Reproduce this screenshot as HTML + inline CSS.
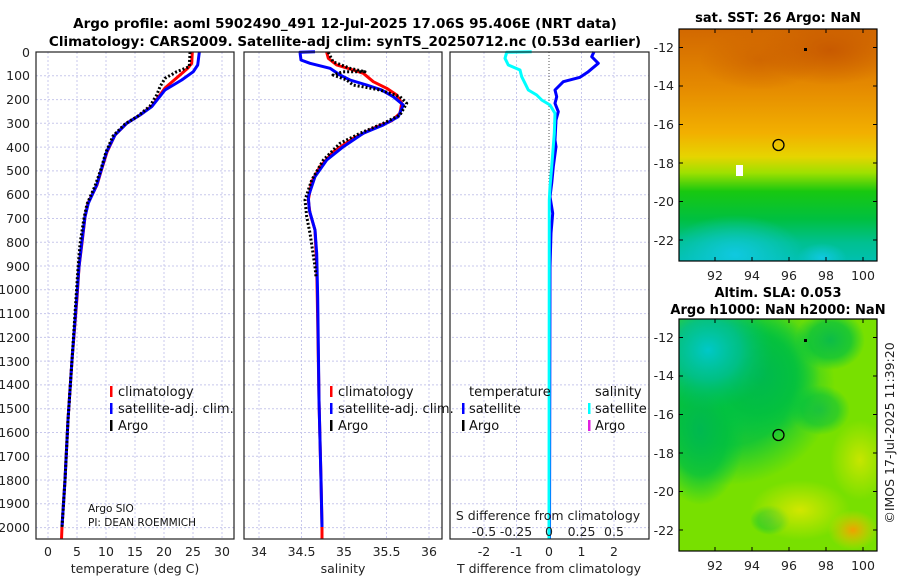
<!DOCTYPE html>
<html><head><meta charset="utf-8"><style>
body{margin:0;background:#fff}
svg text{font-family:"DejaVu Sans","Liberation Sans",sans-serif}
</style></head><body>
<svg width="900" height="580" xmlns="http://www.w3.org/2000/svg">
<defs>
<linearGradient id="sst" x1="0" y1="0" x2="0" y2="1">
<stop offset="0" stop-color="#d26800"/><stop offset="0.25" stop-color="#e58a00"/>
<stop offset="0.45" stop-color="#f2b000"/><stop offset="0.55" stop-color="#e6d400"/>
<stop offset="0.62" stop-color="#9ee000"/><stop offset="0.7" stop-color="#18c810"/>
<stop offset="0.82" stop-color="#00c040"/><stop offset="0.92" stop-color="#00c090"/>
<stop offset="1" stop-color="#00c0b0"/></linearGradient>
<radialGradient id="cy"><stop offset="0" stop-color="#10c8e0"/><stop offset="1" stop-color="#10c8d8" stop-opacity="0"/></radialGradient>
<radialGradient id="dor"><stop offset="0" stop-color="#c85a00"/><stop offset="1" stop-color="#c85a00" stop-opacity="0"/></radialGradient>
<radialGradient id="teal"><stop offset="0" stop-color="#00c8c8"/><stop offset="0.5" stop-color="#00c090" stop-opacity="0.85"/><stop offset="1" stop-color="#00c060" stop-opacity="0"/></radialGradient>
<radialGradient id="grn"><stop offset="0" stop-color="#00b850"/><stop offset="0.6" stop-color="#00c040" stop-opacity="0.8"/><stop offset="1" stop-color="#00c840" stop-opacity="0"/></radialGradient>
<radialGradient id="org"><stop offset="0" stop-color="#f0a000"/><stop offset="1" stop-color="#f0d000" stop-opacity="0"/></radialGradient>
<radialGradient id="yl"><stop offset="0" stop-color="#e8e800"/><stop offset="1" stop-color="#e8e800" stop-opacity="0"/></radialGradient>
<clipPath id="c1"><rect x="679" y="29" width="198" height="232"/></clipPath>
<clipPath id="c2"><rect x="679" y="319" width="198" height="232"/></clipPath>
</defs>

<text x="345" y="28" font-size="13.5" font-weight="bold" text-anchor="middle">Argo profile: aoml 5902490_491 12-Jul-2025 17.06S 95.406E (NRT data)</text>
<text x="345" y="46" font-size="13.5" font-weight="bold" text-anchor="middle">Climatology: CARS2009. Satellite-adj clim: synTS_20250712.nc (0.53d earlier)</text>

<g stroke="#c8c8ec" stroke-width="1" stroke-dasharray="2,2" fill="none">
<path d="M36 75.8H649M36 99.6H649M36 123.3H649M36 147.1H649M36 170.9H649M36 194.7H649M36 218.5H649M36 242.2H649M36 266H649M36 289.8H649M36 313.6H649M36 337.4H649M36 361.1H649M36 384.9H649M36 408.7H649M36 432.5H649M36 456.3H649M36 480H649M36 503.8H649M36 527.6H649"/>
<path d="M48 52V539M77 52V539M106 52V539M135 52V539M164 52V539M193 52V539M222 52V539"/>
<path d="M259 52V539M301.5 52V539M344 52V539M386.5 52V539M429 52V539"/>
<path d="M484 52V539M516.5 52V539M581.5 52V539M614 52V539"/>
</g>
<rect x="234" y="52" width="10" height="490" fill="#fff"/>
<rect x="442" y="52" width="8" height="490" fill="#fff"/>
<line x1="549" y1="52" x2="549" y2="539" stroke="#555" stroke-dasharray="1,2"/>

<g fill="none" stroke-linejoin="round">
<polyline stroke="#f00" stroke-width="3" points="192.3,52.3 191.7,63.3 188,68 180,75 165,88 152,106 140,115 127,123 115,135 107,152 102,168 97,185 88,203 85,217 82,243 79,267 77,298 72,360 68,420 65,480 62,527 61.5,539"/>
<polyline stroke="#00f" stroke-width="3" points="199.3,52.3 197.7,65 193.3,71.7 181.7,80 165,90 151.7,106.7 140,115 126.7,123.3 115,135 106.7,151.7 101.7,168.3 96.7,185 88.3,203.3 85,216.7 81.7,243.3 79,266.7 76.7,298.3 72,360 68,420 65,480 62,527"/>
<polyline stroke="#000" stroke-width="3" stroke-dasharray="2,2" points="190,52 189.3,66.7 176.7,71.7 165,78.3 160,86.7 156.7,95 150,106 138,116 125,124 113,136 106,152 101,169 95,186 87,204 84,218 80,244 78,268 76,298 72,360 68,420 65,480 62,527"/>
<polyline stroke="#f00" stroke-width="3" points="326.7,52.3 328.3,58.3 336.7,65 353.3,70 363.3,73.3 373.3,81.7 386.7,88.3 396.7,95 401.7,103.3 400,113.3 391.7,120.7 373.3,128.3 353.3,138.3 333.3,151.7 320,166.7 311.7,181.7 308.3,200 310,213.3 315,230 316.7,266.7 317.3,298.3 319,400 321,480 322,527 322,539"/>
<polyline stroke="#00f" stroke-width="3" points="315,51.7 300,52.3 301,60 310,63.3 330,68.3 340,75 350,80 366.7,85 381.7,90 393.3,96.7 403.3,105 398.3,116.7 383.3,125 363.3,133.3 343.3,146.7 326.7,160 315,176.7 308.3,196.7 309.3,210 315,230 316.7,253.3 317.7,298.3 319,400 321,480 322,527"/>
<polyline stroke="#000" stroke-width="3" stroke-dasharray="2,2" points="328.3,52.3 333,61.7 350,68.3 365,71.7 343,71.7 333,75 346.7,80 353,85 380,90 400,96.7 406.7,103.3 400,115 383.3,123.3 360,133.3 340,143.3 323.3,160 311.7,180 305,200 306.7,216.7 310,233.3 315,266.7 316,276.7"/>
<polyline stroke="#00f" stroke-width="3" points="594,51.7 591.7,56.7 598.3,63.3 588.3,71.7 580,77.3 563.3,81.7 555,90 556.7,96.7 555,103.3 558.3,111.7 556,120 555,140 556,146.7 553.3,166.7 551.7,183.3 550,196.7 552.7,213.3 551,233.3 550,266.7 549.5,539"/>
<polyline stroke="#0ff" stroke-width="3" points="531.7,51.7 506.7,52.3 505,58.3 508.3,65 520,70 521.7,76.7 525,83.3 528.3,90 536.7,95 541.7,100 550,105 555,113.3 554.3,133.3 551.7,166.7 550,186.7 549.3,200 549,539"/>
</g>

<g fill="none" stroke="#222" stroke-width="1.2">
<rect x="36" y="52" width="198" height="487"/>
<rect x="244" y="52" width="198" height="487"/>
<rect x="450" y="52" width="199" height="487"/>
</g>

<g font-size="12.5" fill="#222" text-anchor="end">
<text x="30" y="57">0</text><text x="30" y="80">100</text><text x="30" y="104">200</text><text x="30" y="128">300</text><text x="30" y="152">400</text><text x="30" y="175">500</text><text x="30" y="199">600</text><text x="30" y="223">700</text><text x="30" y="247">800</text><text x="30" y="271">900</text><text x="30" y="294">1000</text><text x="30" y="318">1100</text><text x="30" y="342">1200</text><text x="30" y="366">1300</text><text x="30" y="389">1400</text><text x="30" y="413">1500</text><text x="30" y="437">1600</text><text x="30" y="461">1700</text><text x="30" y="485">1800</text><text x="30" y="508">1900</text><text x="30" y="532">2000</text>
</g>

<g font-size="12.5" fill="#222" text-anchor="middle">
<text x="48" y="556">0</text><text x="77" y="556">5</text><text x="106" y="556">10</text><text x="135" y="556">15</text><text x="164" y="556">20</text><text x="193" y="556">25</text><text x="222" y="556">30</text>
<text x="259" y="556">34</text><text x="301.5" y="556">34.5</text><text x="344" y="556">35</text><text x="386.5" y="556">35.5</text><text x="429" y="556">36</text>
<text x="484" y="556">-2</text><text x="516.5" y="556">-1</text><text x="549" y="556">0</text><text x="581.5" y="556">1</text><text x="614" y="556">2</text>
<text x="135" y="573">temperature (deg C)</text>
<text x="343" y="573">salinity</text>
<text x="549" y="573">T difference from climatology</text>
<text x="548" y="520">S difference from climatology</text>
<text x="484" y="536">-0.5</text><text x="516" y="536">-0.25</text><text x="549" y="536">0</text><text x="581.5" y="536">0.25</text><text x="614" y="536">0.5</text>
</g>

<g font-size="13" fill="#111">
<rect x="110" y="386" width="2.5" height="11" fill="#f00"/><text x="118" y="396">climatology</text>
<rect x="110" y="403" width="2.5" height="11" fill="#00f"/><text x="118" y="413">satellite-adj. clim.</text>
<rect x="110" y="420" width="2.5" height="11" fill="#000"/><text x="118" y="430">Argo</text>
<rect x="330" y="386" width="2.5" height="11" fill="#f00"/><text x="338" y="396">climatology</text>
<rect x="330" y="403" width="2.5" height="11" fill="#00f"/><text x="338" y="413">satellite-adj. clim.</text>
<rect x="330" y="420" width="2.5" height="11" fill="#000"/><text x="338" y="430">Argo</text>
<text x="469" y="396">temperature</text><text x="595" y="396">salinity</text>
<rect x="462" y="403" width="2.5" height="11" fill="#00f"/><text x="469" y="413">satellite</text>
<rect x="462" y="420" width="2.5" height="11" fill="#000"/><text x="469" y="430">Argo</text>
<rect x="588" y="403" width="2.5" height="11" fill="#0ff"/><text x="595" y="413">satellite</text>
<rect x="588" y="420" width="2.5" height="11" fill="#e020e0"/><text x="595" y="430">Argo</text>
</g>
<text x="88" y="512" font-size="10.5" fill="#111">Argo SIO</text>
<text x="88" y="526" font-size="10.5" fill="#111">PI: DEAN ROEMMICH</text>

<g clip-path="url(#c1)">
<rect x="679" y="29" width="198" height="232" fill="url(#sst)"/>
<ellipse cx="830" cy="50" rx="70" ry="35" fill="url(#dor)"/>
<ellipse cx="760" cy="60" rx="60" ry="30" fill="url(#dor)" opacity="0.6"/>
<ellipse cx="735" cy="255" rx="70" ry="40" fill="url(#cy)"/>
<ellipse cx="822" cy="258" rx="25" ry="15" fill="url(#cy)"/>
</g>
<rect x="736" y="165" width="7" height="11" fill="#fff"/>
<circle cx="778.5" cy="145" r="5.5" fill="none" stroke="#000" stroke-width="1.3"/>
<rect x="804" y="48" width="3" height="3" fill="#000"/>
<rect x="679" y="29" width="198" height="232" fill="none" stroke="#000" stroke-width="1.2"/>
<text x="778" y="22" font-size="13" font-weight="bold" text-anchor="middle">sat. SST: 26 Argo: NaN</text>

<g clip-path="url(#c2)">
<rect x="679" y="319" width="198" height="232" fill="#78e000"/>
<ellipse cx="730" cy="385" rx="105" ry="100" fill="url(#grn)"/>
<ellipse cx="700" cy="430" rx="45" ry="75" fill="url(#grn)"/>
<ellipse cx="760" cy="375" rx="60" ry="65" fill="url(#grn)"/>
<ellipse cx="708" cy="350" rx="65" ry="60" fill="url(#teal)"/>
<ellipse cx="830" cy="340" rx="35" ry="30" fill="url(#grn)" opacity="0.9"/>
<ellipse cx="820" cy="410" rx="30" ry="25" fill="url(#grn)" opacity="0.7"/>
<ellipse cx="770" cy="520" rx="20" ry="15" fill="url(#grn)" opacity="0.6"/>
<ellipse cx="800" cy="510" rx="50" ry="30" fill="url(#yl)" opacity="0.8"/>
<ellipse cx="860" cy="460" rx="30" ry="40" fill="url(#yl)" opacity="0.7"/>
<ellipse cx="853" cy="530" rx="25" ry="20" fill="url(#org)"/>
</g>
<circle cx="778.5" cy="435" r="5.5" fill="none" stroke="#000" stroke-width="1.3"/>
<rect x="804" y="339" width="3" height="3" fill="#000"/>
<rect x="679" y="319" width="198" height="232" fill="none" stroke="#000" stroke-width="1.2"/>
<text x="778" y="297" font-size="13" font-weight="bold" text-anchor="middle">Altim. SLA: 0.053</text>
<text x="778" y="314" font-size="13" font-weight="bold" text-anchor="middle">Argo h1000: NaN h2000: NaN</text>

<g font-size="12.5" fill="#222" text-anchor="end">
<text x="674" y="52">-12</text><text x="674" y="90">-14</text><text x="674" y="129">-16</text><text x="674" y="168">-18</text><text x="674" y="206">-20</text><text x="674" y="245">-22</text>
<text x="674" y="342">-12</text><text x="674" y="380">-14</text><text x="674" y="419">-16</text><text x="674" y="458">-18</text><text x="674" y="496">-20</text><text x="674" y="535">-22</text>
</g>
<g font-size="12.5" fill="#222" text-anchor="middle">
<text x="715" y="280">92</text><text x="752" y="280">94</text><text x="789" y="280">96</text><text x="826" y="280">98</text><text x="863" y="280">100</text>
<text x="715" y="570">92</text><text x="752" y="570">94</text><text x="789" y="570">96</text><text x="826" y="570">98</text><text x="863" y="570">100</text>
</g>
<g stroke="#000" stroke-width="1">
<path d="M679 47.5h4M679 86h4M679 124.5h4M679 163h4M679 201.5h4M679 240h4M873 47.5h4M873 86h4M873 124.5h4M873 163h4M873 201.5h4M873 240h4"/>
<path d="M679 337.5h4M679 376h4M679 414.5h4M679 453h4M679 491.5h4M679 530h4M873 337.5h4M873 376h4M873 414.5h4M873 453h4M873 491.5h4M873 530h4"/>
<path d="M715 261v-4M752 261v-4M789 261v-4M826 261v-4M863 261v-4M715 29v4M752 29v4M789 29v4M826 29v4M863 29v4"/>
<path d="M715 551v-4M752 551v-4M789 551v-4M826 551v-4M863 551v-4M715 319v4M752 319v4M789 319v4M826 319v4M863 319v4"/>
</g>
<text transform="translate(894,433) rotate(-90)" font-size="12.5" fill="#222" text-anchor="middle">©IMOS 17-Jul-2025 11:39:20</text>
</svg>
</body></html>
